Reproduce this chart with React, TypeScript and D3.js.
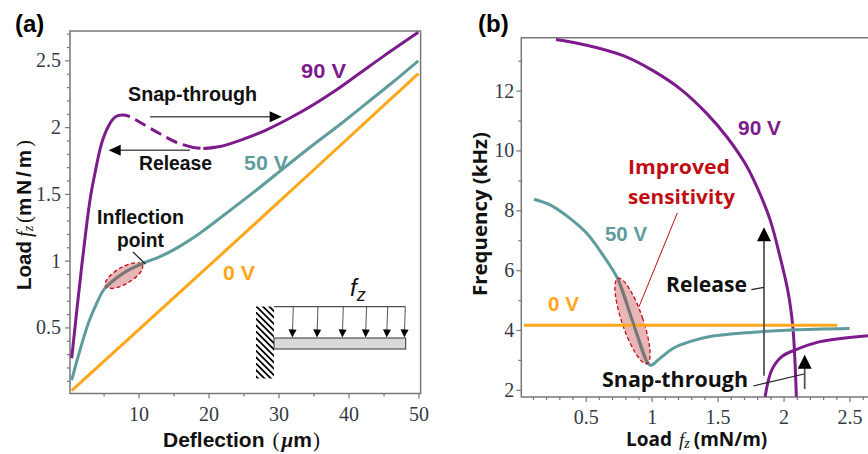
import React, { useEffect, useRef } from 'react';
import * as d3 from 'd3';

type Pt = [number, number];

// panel (a): load vs deflection
const a90Rising: Pt[] = [[0.44, 0.269], [1.87, 0.956], [3.06, 1.455], [3.77, 1.656], [4.73, 1.88], [5.67, 2.005], [6.63, 2.075], [7.59, 2.09], [8.77, 2.08]];
const a90Dashed: Pt[] = [[8.77, 2.08], [9.82, 2.048], [13.06, 1.95], [15.45, 1.885], [17.82, 1.848], [19.25, 1.84]];
const a90Upper: Pt[] = [[19.25, 1.84], [21.63, 1.855], [24.97, 1.91], [28.3, 1.98], [31.64, 2.068], [34.97, 2.168], [38.3, 2.28], [41.64, 2.405], [44.97, 2.53], [49.97, 2.71]];
const a50: Pt[] = [[0.44, 0.106], [1.63, 0.331], [2.82, 0.531], [4.02, 0.681], [5.2, 0.794], [7.82, 0.906], [10.67, 0.981], [13.06, 1.03], [15.45, 1.094], [18.3, 1.188], [19.73, 1.243], [23.54, 1.395], [27.35, 1.55], [31.16, 1.71], [34.97, 1.868], [38.78, 2.02], [42.6, 2.18], [46.4, 2.34], [49.97, 2.497]];
const a0: Pt[] = [[0.44, 0.026], [25.67, 1.23], [49.97, 2.4]];
const aXTicks = [10, 20, 30, 40, 50];
const aXMinor = [5, 15, 25, 35, 45];
const aYTicks = [0.5, 1, 1.5, 2, 2.5];
const aYMinor = [0.1, 0.2, 0.3, 0.4, 0.6, 0.7, 0.8, 0.9, 1.1, 1.2, 1.3, 1.4, 1.6, 1.7, 1.8, 1.9, 2.1, 2.2, 2.3, 2.4, 2.6, 2.7];

// panel (b): frequency vs load
const b90Upper: Pt[] = [[0.275, 13.71], [0.508, 13.52], [0.785, 13.17], [1.013, 12.66], [1.228, 12.02], [1.417, 11.24], [1.569, 10.46], [1.708, 9.57], [1.797, 8.79], [1.898, 7.68], [1.973, 6.45], [2.036, 5.23], [2.07, 4.11], [2.087, 2.89], [2.097, 1.77]];
const b90Lower: Pt[] = [[1.86, 1.77], [1.91, 2.66], [1.986, 3.11], [2.087, 3.33], [2.277, 3.61], [2.645, 3.81]];
const b50: Pt[] = [[0.108, 8.37], [0.23, 8.18], [0.381, 7.73], [0.508, 7.23], [0.622, 6.56], [0.748, 5.67], [0.861, 4.22], [0.963, 2.94], [0.993, 2.82], [1.05, 3.0], [1.164, 3.39], [1.29, 3.61], [1.443, 3.78], [1.754, 3.92], [2.058, 4.0], [2.5, 4.05]];
const b0: Pt[] = [[0.033, 4.16], [2.407, 4.16]];
const bXTicks = [0.5, 1, 1.5, 2, 2.5];
const bXMinor = [0.1, 0.2, 0.3, 0.4, 0.6, 0.7, 0.8, 0.9, 1.1, 1.2, 1.3, 1.4, 1.6, 1.7, 1.8, 1.9, 2.1, 2.2, 2.3, 2.4, 2.6];
const bYTicks = [2, 4, 6, 8, 10, 12];
const bYMinor = [3, 5, 7, 9, 11, 13];

// where the load arrows sit along the cantilever (deflection units)
const loadArrows = [32, 35.5, 39.1, 42.4, 45.4, 47.9];

const PURPLE = '#7d1a8c';
const TEAL = '#5f9c9c';
const ORANGE = '#ffa61a';
const RED = '#c00d14';
const AXIS = '#777';
const SANS = '"Liberation Sans", Arial, sans-serif';
const SERIF = '"Liberation Serif", serif';
const OPEN = '"Open Sans", sans-serif';

const xA = d3.scaleLinear().domain([0.2, 50.3]).range([70, 420.6]);
const yA = d3.scaleLinear().domain([0.005, 2.72]).range([393.5, 31]);
const xB = d3.scaleLinear().domain([0.012, 2.64]).range([521.3, 868]);
const yB = d3.scaleLinear().domain([1.76, 13.77]).range([397, 37.7]);

const lineA = d3.line<Pt>().x(d => xA(d[0])).y(d => yA(d[1])).curve(d3.curveCatmullRom);
const lineB = d3.line<Pt>().x(d => xB(d[0])).y(d => yB(d[1])).curve(d3.curveCatmullRom);

const Arrow = ({ x1, y1, x2, y2, len = 12, half = 5.5, w = 1.5 }: any) => {
  const ang = Math.atan2(y2 - y1, x2 - x1) * 180 / Math.PI;
  const c = Math.hypot(x2 - x1, y2 - y1) - len;
  return (
    <g transform={`translate(${x1},${y1}) rotate(${ang})`}>
      <line x1={0} y1={0} x2={c + 1} y2={0} stroke="#555" strokeWidth={w} />
      <path d={`M${c},${-half}L${c + len},0L${c},${half}Z`} fill="#000" />
    </g>
  );
};

const Label = ({ x, y, color = '#111', size = 19.5, family = SANS, w, children }: any) => (
  <text x={x} y={y} fill={color} fontSize={size} fontFamily={family} fontWeight="bold"
    textLength={w} lengthAdjust="spacingAndGlyphs">{children}</text>
);

const App = () => {
  const svgRef = useRef<SVGSVGElement>(null);

  useEffect(() => {
    const svg = d3.select(svgRef.current);
    svg.selectAll('.axis').remove();

    const draw = (axis: any, tx: string) => {
      const g = svg.append('g').attr('class', 'axis').attr('transform', tx).call(axis);
      g.select('.domain').remove();
      g.selectAll('.tick line').attr('stroke', AXIS).attr('stroke-width', 1.2);
      g.selectAll('.tick text')
        .attr('fill', '#333a45')
        .style('font-family', SERIF)
        .style('font-size', '20px');
    };
    const fmt = d3.format('~g');

    // panel (a) ticks
    draw(d3.axisBottom(xA).tickValues(aXTicks).tickSize(5).tickPadding(8).tickFormat(fmt as any), `translate(0,${yA.range()[0]})`);
    draw(d3.axisBottom(xA).tickValues(aXMinor).tickSize(3).tickFormat(() => ''), `translate(0,${yA.range()[0]})`);
    draw(d3.axisLeft(yA).tickValues(aYTicks).tickSize(5).tickPadding(4).tickFormat(fmt as any), `translate(${xA.range()[0]},0)`);
    draw(d3.axisLeft(yA).tickValues(aYMinor).tickSize(3).tickFormat(() => ''), `translate(${xA.range()[0]},0)`);

    // panel (b) ticks
    draw(d3.axisBottom(xB).tickValues(bXTicks).tickSize(5).tickPadding(8).tickFormat(fmt as any), `translate(0,${yB.range()[0]})`);
    draw(d3.axisBottom(xB).tickValues(bXMinor).tickSize(3).tickFormat(() => ''), `translate(0,${yB.range()[0]})`);
    draw(d3.axisLeft(yB).tickValues(bYTicks).tickSize(5).tickPadding(2).tickFormat(fmt as any), `translate(${xB.range()[0]},0)`);
    draw(d3.axisLeft(yB).tickValues(bYMinor).tickSize(3).tickFormat(() => ''), `translate(${xB.range()[0]},0)`);
  }, []);

  const [ax0, ax1] = xA.range();
  const [ay0, ay1] = yA.range();
  const [bx0, bx1] = xB.range();
  const [by0, by1] = yB.range();

  const schemeX = d3.scaleLinear().domain([32, 47.9]).range([292.3, 404.3]);
  const hatch = d3.range(-4, 18);

  return (
    <svg ref={svgRef} width={868} height={454}
      style={{ position: 'absolute', left: 0, top: 0, background: '#fff', display: 'block' }}>
      <defs>
        <clipPath id="wall"><rect x={256} y={306.5} width={18} height={72} /></clipPath>
      </defs>

      {/* panel a */}
      <path d={`M${ax0},${ay1}L${ax1},${ay1}L${ax1},${ay0}L${ax0},${ay0}Z`} fill="none" stroke={AXIS} strokeWidth={1.5} />
      <path d={lineA(a0) ?? ''} fill="none" stroke={ORANGE} strokeWidth={3} />
      <path d={lineA(a50) ?? ''} fill="none" stroke={TEAL} strokeWidth={3} />
      <path d={lineA(a90Rising) ?? ''} fill="none" stroke={PURPLE} strokeWidth={3} />
      <path d={lineA(a90Dashed) ?? ''} fill="none" stroke={PURPLE} strokeWidth={3} strokeDasharray="0 6 12 6 12 6 12 6 12" />
      <path d={lineA(a90Upper) ?? ''} fill="none" stroke={PURPLE} strokeWidth={3} />

      <ellipse cx={123.9} cy={275.5} rx={21.2} ry={8.3} transform="rotate(-30 123.9 275.5)"
        fill="#c8494c" fillOpacity={0.4} stroke={RED} strokeWidth={1.3} strokeDasharray="4 2.5" />
      <path d={lineA(a50.filter(d => d[0] >= 5.2 && d[0] <= 10.7)) ?? ''} fill="none" stroke="#777" strokeWidth={2.6} />
      <line x1={133} y1={252} x2={145.3} y2={264} stroke="#222" strokeWidth={1.2} />

      <Arrow x1={150} y1={116.7} x2={281.7} y2={116.7} />
      <Arrow x1={190} y1={150.3} x2={108.7} y2={150.3} />

      <text x={15} y={32} fontSize={24} fontWeight="bold" fontFamily={SANS} fill="#000">(a)</text>
      <Label x={128} y={101} w={129}>Snap-through</Label>
      <Label x={139} y={170} w={73}>Release</Label>
      <Label x={97} y={224} w={87}>Inflection</Label>
      <Label x={117} y={247} w={47}>point</Label>
      <Label x={301} y={78} color={PURPLE} size={20.5} w={45}>90 V</Label>
      <Label x={244} y={170} color={TEAL} size={20.5} w={44}>50 V</Label>
      <Label x={223} y={280} color={ORANGE} size={20.5} w={32}>0 V</Label>

      <text transform="translate(31,290) rotate(-90)" fontSize={20.5} fontWeight="bold" fontFamily={SANS} fill="#111">
        Load
        <tspan fontFamily={SERIF} fontStyle="italic" fontWeight="normal" dx={4}>f</tspan>
        <tspan fontFamily={SERIF} fontStyle="italic" fontWeight="normal" fontSize={14} dy={2}>z</tspan>
        <tspan fontFamily={SERIF} fontWeight="normal" dy={-2} dx={3}>(</tspan>
        <tspan letterSpacing={3}>mN/m</tspan>
        <tspan fontFamily={SERIF} fontWeight="normal">)</tspan>
      </text>
      <text x={163} y={447} fontSize={21} fontWeight="bold" fontFamily={SANS} fill="#111">
        Deflection
        <tspan fontFamily={SERIF} fontWeight="normal" dx={8}>(</tspan>
        <tspan fontFamily={SERIF} fontStyle="italic" dx={2}>μ</tspan>
        <tspan>m</tspan>
        <tspan fontFamily={SERIF} fontWeight="normal" dx={1}>)</tspan>
      </text>

      {/* cantilever schematic */}
      <g clipPath="url(#wall)">
        {hatch.map(i => (
          <line key={i} x1={250} y1={300 + i * 6.4} x2={280} y2={330 + i * 6.4} stroke="#000" strokeWidth={1.8} />
        ))}
      </g>
      <line x1={274} y1={306.7} x2={405.3} y2={306.7} stroke="#222" strokeWidth={1} />
      <rect x={274} y={338} width={131.7} height={11} fill="#d9d9d9" stroke="#333" strokeWidth={1} />
      {loadArrows.map(d => (
        <Arrow key={d} x1={schemeX(d) + 1} y1={306.7} x2={schemeX(d)} y2={337.5} len={8} half={4} w={1} />
      ))}
      <text x={350} y={296} fontSize={24} fontStyle="italic" fontFamily={SANS} fill="#111">
        f<tspan fontSize={18} dy={5}>z</tspan>
      </text>

      {/* panel b */}
      <path d={`M${bx1},${by1}L${bx0},${by1}L${bx0},${by0}L${bx1},${by0}`} fill="none" stroke={AXIS} strokeWidth={1.5} />
      <path d={lineB(b90Upper) ?? ''} fill="none" stroke={PURPLE} strokeWidth={3} />
      <path d={lineB(b90Lower) ?? ''} fill="none" stroke={PURPLE} strokeWidth={3} />
      <path d={lineB(b50) ?? ''} fill="none" stroke={TEAL} strokeWidth={3} />
      <ellipse cx={632.5} cy={321} rx={10.5} ry={45} transform="rotate(-18.8 632.5 321)"
        fill="#c8494c" fillOpacity={0.4} stroke={RED} strokeWidth={1.3} strokeDasharray="4 2.5" />
      <path d={lineB(b0) ?? ''} fill="none" stroke={ORANGE} strokeWidth={3} />
      <path d={lineB(b50.filter(d => d[0] >= 0.74 && d[0] <= 0.97)) ?? ''} fill="none" stroke="#777" strokeWidth={2.6} />

      <line x1={677.3} y1={213} x2={639} y2={306.7} stroke={RED} strokeWidth={1} />
      <Arrow x1={764} y1={375.7} x2={764} y2={227.3} len={14} half={7} w={1.8} />
      <Arrow x1={804.7} y1={389} x2={804.7} y2={354.7} len={14} half={7} w={1.8} />
      <line x1={751.3} y1={289.7} x2={764} y2={287.3} stroke="#222" strokeWidth={1.2} />
      <line x1={753.3} y1={386} x2={804} y2={374} stroke="#222" strokeWidth={1.2} />

      <text x={478} y={32} fontSize={24} fontWeight="bold" fontFamily={SANS} fill="#000">(b)</text>
      <Label x={628} y={174} color={RED} family={OPEN} size={20} w={102}>Improved</Label>
      <Label x={628} y={204} color={RED} family={OPEN} size={20} w={107}>sensitivity</Label>
      <Label x={666} y={292} family={OPEN} size={20.5} w={81}>Release</Label>
      <Label x={602} y={387} family={OPEN} size={20.5} w={146}>Snap-through</Label>
      <Label x={738} y={135} color={PURPLE} size={20.5} w={43}>90 V</Label>
      <Label x={605} y={241} color={TEAL} size={20.5} w={42}>50 V</Label>
      <Label x={548} y={311} color={ORANGE} size={20.5} w={31}>0 V</Label>

      <text transform="translate(487,296) rotate(-90)" fontSize={19.5} fontWeight="bold" fontFamily={OPEN} fill="#111"
        textLength={164} lengthAdjust="spacingAndGlyphs">Frequency (kHz)</text>
      <text x={626} y={446} fontSize={19} fontWeight="bold" fontFamily={OPEN} fill="#111">
        Load
        <tspan fontFamily={SERIF} fontStyle="italic" fontWeight="normal" dx={7}>f</tspan>
        <tspan fontFamily={SERIF} fontStyle="italic" fontWeight="normal" fontSize={14} dy={2}>z</tspan>
        <tspan dy={-2} dx={4}>(mN/m)</tspan>
      </text>
    </svg>
  );
};

export default App;
